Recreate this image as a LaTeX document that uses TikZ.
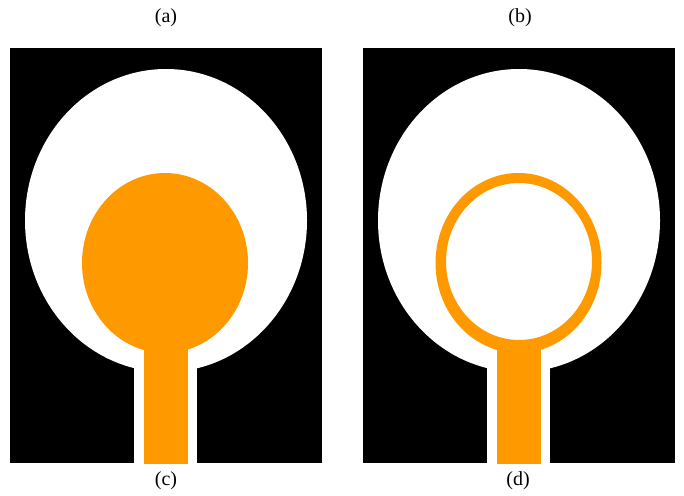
\documentclass[tikz,border=0pt]{standalone}
\usepackage{fontspec}
\setmainfont{Liberation Serif}
\definecolor{patch}{HTML}{FF9900}

\begin{document}
\begin{tikzpicture}[x=1pt,y=-1pt,
  ground/.style={fill=black},
  gap/.style={fill=white},
  metal/.style={fill=patch,even odd rule},
  caption/.style={font=\fontsize{20}{20}\selectfont,inner sep=0pt}]
  \useasboundingbox (0,0) rectangle (684,495);
  % left and right panel
  \foreach \dx in {0, 353} {
    \fill[ground] (10+\dx,48) rectangle (322+\dx,463);
    \fill[gap] (166+\dx,220.5) ellipse [x radius=141, y radius=151.5];
    \fill[gap] (134+\dx,340) rectangle (197+\dx,464);
    \fill[metal] (144+\dx,340) rectangle (188+\dx,464);
  }
  \fill[metal] (165,263) ellipse [x radius=83, y radius=90];
  \fill[metal] (518.5,263) ellipse [x radius=83, y radius=90]
    (519,261.5) ellipse [x radius=73, y radius=78.5];
  \node[caption] (a) at (166,17.5) {(a)};
  \node[caption] (b) at (520,17.5) {(b)};
  \node[caption] (c) at (166,481) {(c)};
  \node[caption] (d) at (518,481) {(d)};
\end{tikzpicture}
\end{document}
